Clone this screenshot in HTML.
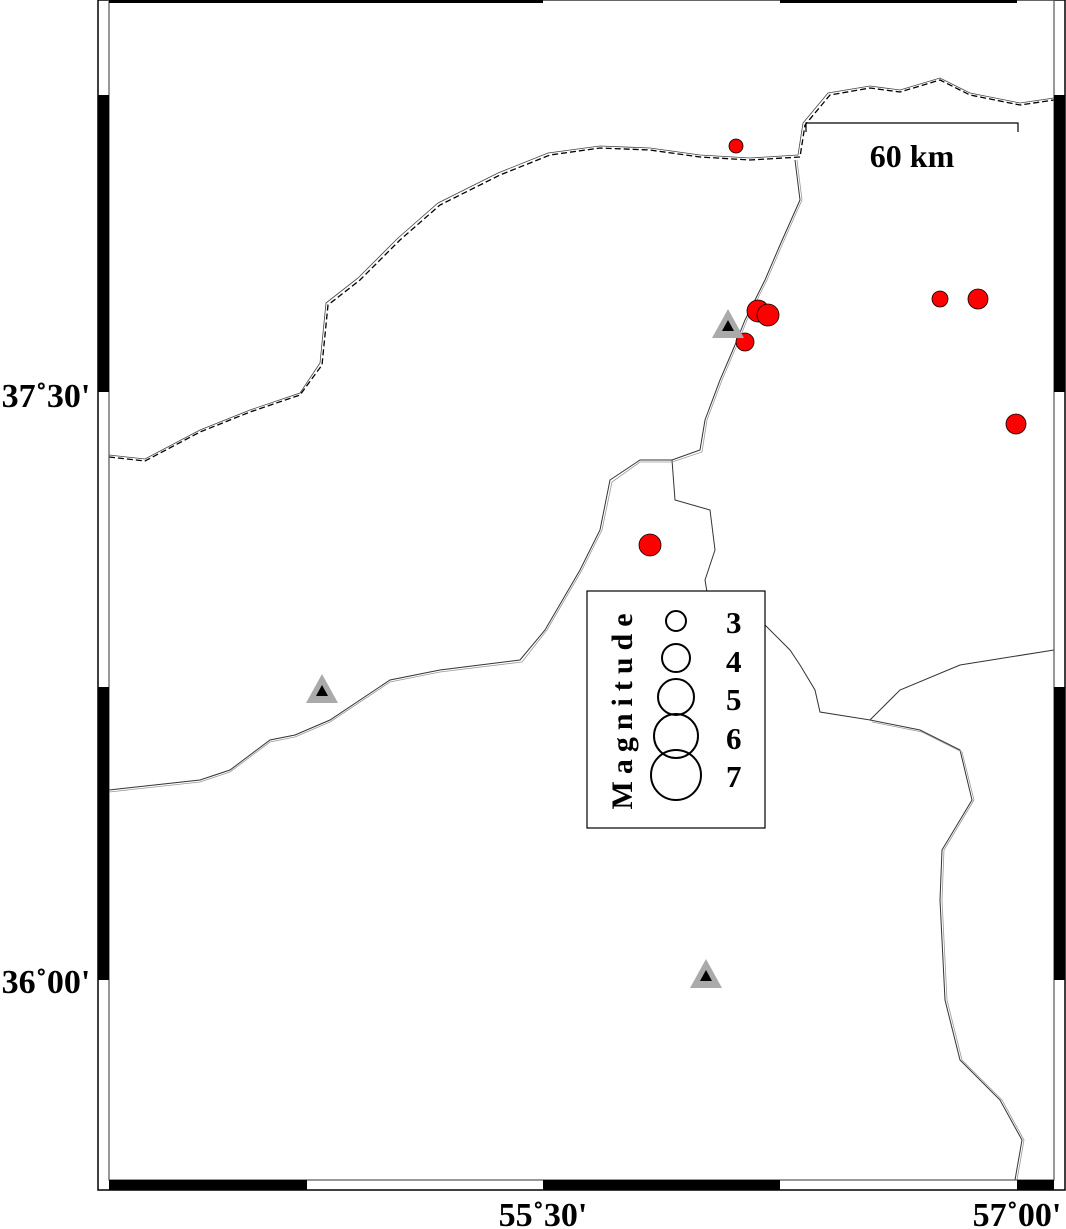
<!DOCTYPE html>
<html><head><meta charset="utf-8"><style>
html,body{margin:0;padding:0;background:#fff;}
svg{display:block;}
text{font-family:"Liberation Serif",serif;font-weight:bold;}
</style></head><body>
<svg width="1066" height="1229" viewBox="0 0 1066 1229" xmlns="http://www.w3.org/2000/svg">
<rect width="1066" height="1229" fill="#fff"/>
<g fill="none">
<polyline points="109,457 145,461 200,432 250,412 300,395 322,365 328,305 360,280 400,240 440,205 500,175 550,155 600,148 650,150 700,157 750,160 800,157 805,125 830,95 870,88 900,92 940,80 970,95 1020,105 1054,100" stroke="#000" stroke-width="1.3" stroke-dasharray="6,3"/>
<polyline points="109,455 145,459 200,430 250,410 300,393 320,363 326,303 358,278 398,238 438,203 498,173 548,153 600,146 650,148 700,155 750,158 798,155 803,123 828,93 870,86 900,90 940,78 970,93 1020,103 1054,98" stroke="#444" stroke-width="0.8"/>
<g stroke="#333" stroke-width="1">
<polyline points="795,160 800,200 780,245 765,280 745,320 735,345 720,380 705,420 700,450 672,460 640,460 610,480 600,530 580,570 545,630 520,660 440,670 390,680 330,720 295,735 270,740 230,770 200,780 109,790"/>
<polyline points="672,460 675,500 710,510 715,550 705,580 707,592"/>
<polyline points="765,625 790,650 800,665 815,690 820,712 870,720 900,690 960,665 1054,650"/>
<polyline points="870,720 920,730 960,750 972,800 942,850 940,900 945,1000 960,1060 1000,1100 1022,1140 1015,1180"/>
</g>
<g stroke="#999" stroke-width="0.8">
<polyline points="797,160 802,200 782,245 767,280 747,320 737,345 722,380 707,420 702,452 672,462 640,462 612,482 602,530 582,570 547,630 522,662 440,672 390,682 330,722 295,737 270,742 230,772 200,782 109,792"/>
<polyline points="872,722 922,732 962,752 974,800 944,850 942,900 947,1000 962,1060 1002,1100 1024,1140 1017,1180"/>
</g>
</g>
<rect x="98" y="0" width="967" height="1190" fill="none" stroke="#000" stroke-width="1.5"/>
<rect x="109" y="0" width="945" height="1180" fill="none" stroke="#555" stroke-width="1.2"/>
<g fill="#000">
<rect x="109" y="1180" width="198" height="10"/><rect x="543" y="1180" width="237" height="10"/><rect x="1017" y="1180" width="37" height="10"/>
<rect x="109" y="0" width="434" height="3"/><rect x="780" y="0" width="237" height="3"/>
<rect x="98" y="95" width="11" height="297"/><rect x="98" y="687" width="11" height="293"/>
<rect x="1054" y="95" width="11" height="297"/><rect x="1054" y="687" width="11" height="293"/>
</g>
<polyline points="806,132 806,123 1018,123 1018,132" fill="none" stroke="#000" stroke-width="1.2"/>
<text x="912" y="167" font-size="32" text-anchor="middle">60 km</text>
<g fill="#f00" stroke="#000" stroke-width="0.8">
<circle cx="736" cy="146" r="7"/>
<circle cx="758" cy="311" r="11"/>
<circle cx="768" cy="315" r="11"/>
<circle cx="745" cy="342" r="9"/>
<circle cx="940" cy="299" r="8"/>
<circle cx="978" cy="299" r="10"/>
<circle cx="1016" cy="424" r="10"/>
<circle cx="650" cy="545" r="11"/>
</g>
<g>
<polygon points="728,309 744,338 712,338" fill="#aaa"/><polygon points="728,320 734,331 722,331" fill="#000"/>
<polygon points="322,674 338,703 306,703" fill="#aaa"/><polygon points="322,685 328,696 316,696" fill="#000"/>
<polygon points="706,959 722,988 690,988" fill="#aaa"/><polygon points="706,970 712,981 700,981" fill="#000"/>
</g>
<rect x="587" y="591" width="178" height="237" fill="#fff" stroke="#000" stroke-width="1.2"/>
<g fill="none" stroke="#000" stroke-width="2">
<circle cx="676" cy="621" r="10"/>
<circle cx="676" cy="658" r="14"/>
<circle cx="676" cy="697" r="18"/>
<circle cx="676" cy="736" r="22"/>
<circle cx="676" cy="775" r="25"/>
</g>
<g font-size="31">
<text x="726" y="633">3</text><text x="726" y="672">4</text><text x="726" y="710">5</text><text x="726" y="749">6</text><text x="726" y="787">7</text>
</g>
<text transform="translate(632,708) rotate(-90)" font-size="30" text-anchor="middle" letter-spacing="7">Magnitude</text>
<g font-size="34">
<text x="46" y="407" text-anchor="middle">37˚30'</text>
<text x="46" y="993" text-anchor="middle">36˚00'</text>
<text x="543" y="1226" text-anchor="middle">55˚30'</text>
<text x="1017" y="1226" text-anchor="middle">57˚00'</text>
</g>
</svg>
</body></html>
